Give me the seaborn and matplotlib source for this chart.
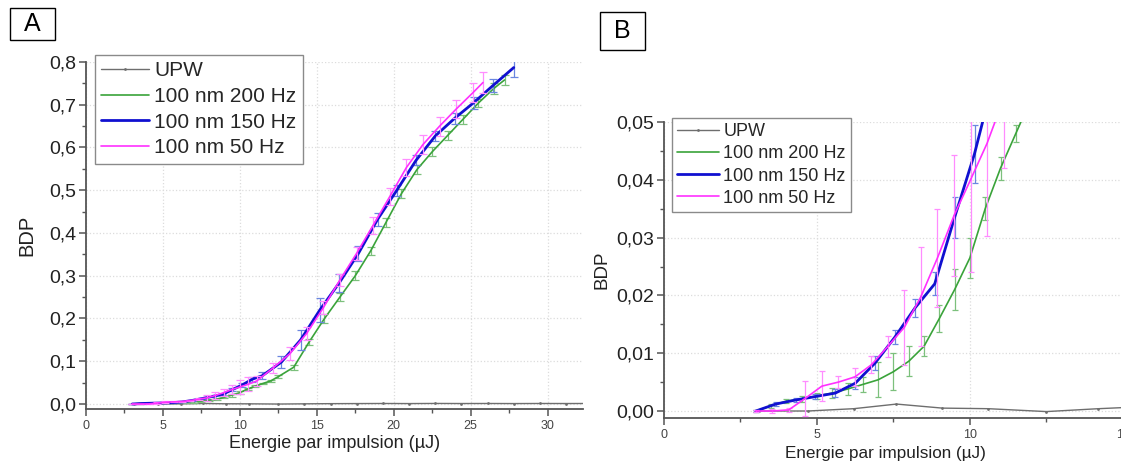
import numpy as np
import pandas as pd
import matplotlib
matplotlib.use("Agg")
import matplotlib.pyplot as plt
from matplotlib.patches import Rectangle
from matplotlib.ticker import MultipleLocator, FuncFormatter
import seaborn as sns

sns.set_theme(style="white")
plt.rcParams['font.family'] = ['Liberation Sans', 'DejaVu Sans']

series_labels = ["UPW", "100 nm 200 Hz", "100 nm 150 Hz", "100 nm 50 Hz"]
x_label = "Energie par impulsion (µJ)"
y_label = "BDP"

upw_x = [3.1, 4.7, 6.2, 7.6, 9.1, 10.6, 12.5, 14.2, 15.9, 17.6, 19.3, 21.0, 22.7, 24.4, 26.1, 27.8, 29.5, 31.2, 32.9]
upw_y = [0.0, 0.0, 0.0004, 0.0012, 0.0005, 0.0004, -0.0001, 0.0004, 0.0008, 0.0010, 0.0012, 0.0010, 0.0013, 0.0011, 0.0012, 0.0010, 0.0012, 0.0011, 0.0012]

green_x = [3.0, 3.5, 4.0, 4.5, 5.0, 5.5, 6.0, 6.5, 7.0, 7.5, 8.0, 8.5, 9.0, 9.5, 10.0, 10.5, 11.0, 11.5, 12.0, 12.5,
           13.5, 14.5, 15.5, 16.5, 17.5, 18.5, 19.5, 20.5, 21.5, 22.5, 23.5, 24.5, 25.5, 26.5, 27.2]
green_y = [0.0, 0.0009, 0.0017, 0.0021, 0.0026, 0.0031, 0.0038, 0.0046, 0.0054, 0.0068, 0.0086, 0.0112, 0.0160, 0.0210,
           0.0265, 0.0350, 0.0420, 0.0480, 0.0540, 0.0640, 0.0860, 0.145, 0.200, 0.250, 0.300, 0.358, 0.425, 0.492,
           0.548, 0.590, 0.628, 0.666, 0.704, 0.738, 0.758]
green_err = [0.0002, 0.0003, 0.0004, 0.0005, 0.0006, 0.0008, 0.001, 0.0013, 0.003, 0.0032, 0.0026, 0.0017, 0.0023, 0.0035,
             0.0035, 0.002, 0.002, 0.0015, 0.003, 0.004, 0.006, 0.008, 0.01, 0.01, 0.01, 0.01, 0.01, 0.01, 0.01, 0.01,
             0.01, 0.01, 0.01, 0.012, 0.012]

blue_x = [3.0, 3.65, 4.3, 4.95, 5.6, 6.25, 6.9, 7.55, 8.2, 8.85, 9.5, 10.15, 10.8, 11.45, 12.7, 13.95, 15.2, 16.45,
          17.7, 18.95, 20.2, 21.45, 22.7, 23.95, 25.2, 26.45, 27.8]
blue_y = [0.0, 0.0012, 0.0019, 0.0025, 0.0031, 0.0048, 0.0083, 0.0128, 0.0178, 0.0220, 0.0335, 0.0445, 0.058, 0.066,
          0.098, 0.150, 0.220, 0.283, 0.352, 0.432, 0.500, 0.570, 0.627, 0.668, 0.705, 0.745, 0.787]
blue_err = [0.0002, 0.0004, 0.0004, 0.0005, 0.0007, 0.001, 0.0012, 0.0012, 0.0015, 0.002, 0.0035, 0.005, 0.006, 0.008,
            0.014, 0.024, 0.028, 0.022, 0.018, 0.015, 0.013, 0.012, 0.012, 0.012, 0.014, 0.016, 0.022]

pink_x = [3.0, 3.54, 4.08, 4.62, 5.16, 5.7, 6.24, 6.78, 7.32, 7.86, 8.4, 8.94, 9.48, 10.02, 10.56, 11.1, 12.18, 13.26,
          14.34, 15.42, 16.5, 17.58, 18.66, 19.74, 20.82, 21.9, 22.98, 24.06, 25.14, 25.8]
pink_y = [0.0, 0.0, 0.0002, 0.0022, 0.0043, 0.0050, 0.0059, 0.0080, 0.0112, 0.0145, 0.0198, 0.0265, 0.0338, 0.0400,
          0.0463, 0.0540, 0.085, 0.118, 0.165, 0.225, 0.290, 0.352, 0.418, 0.485, 0.553, 0.607, 0.650, 0.690, 0.728, 0.752]
pink_err = [0.0002, 0.0003, 0.0004, 0.003, 0.0026, 0.001, 0.0015, 0.0015, 0.0018, 0.0065, 0.0085, 0.0085, 0.0105,
            0.016, 0.016, 0.012, 0.012, 0.015, 0.015, 0.015, 0.015, 0.015, 0.02, 0.02, 0.02, 0.022, 0.022, 0.022,
            0.022, 0.025]

line_colors = ["#6e6e6e", "#3aa33a", "#1010d0", "#ff30ff"]
err_colors = ["#8a8a8a", "#7cc07c", "#6a86e0", "#ff8cff"]
line_widths = [1.0, 1.2, 2.0, 1.2]

series = [
    (upw_x, upw_y, None),
    (green_x, green_y, green_err),
    (blue_x, blue_y, blue_err),
    (pink_x, pink_y, pink_err),
]

W, H = 1121, 468
fig = plt.figure(figsize=(W / 100, H / 100), dpi=100)


def fbox(l, t, r, b):
    return [l / W, 1 - b / H, (r - l) / W, (b - t) / H]


axA = fig.add_axes(fbox(86, 62, 583, 409))
axB = fig.add_axes(fbox(664, 122, 1140, 418))


def draw(ax, capsize, leg_anchor, leg_fs, leg_space, ylab_fs, ylab_pad):
    for i, (xs, ys, es) in enumerate(series):
        df = pd.DataFrame({"x": xs, "y": ys})
        if es is not None:
            ax.errorbar(xs, ys, yerr=es, fmt="none", ecolor=err_colors[i], elinewidth=0.9,
                        capsize=capsize, capthick=0.9, zorder=2 + i)
        sns.lineplot(data=df, x="x", y="y", ax=ax, color=line_colors[i], linewidth=line_widths[i],
                     sort=False, estimator=None, label=series_labels[i],
                     marker="o" if i == 0 else None, markersize=2 if i == 0 else 0,
                     markeredgewidth=0, zorder=3 + i)
    for s in ["top", "right"]:
        ax.spines[s].set_visible(False)
    for s in ["left", "bottom"]:
        ax.spines[s].set_color("#555555")
        ax.spines[s].set_linewidth(1.3)
    ax.tick_params(axis="both", which="both", direction="out", color="#555555",
                   bottom=True, left=True, top=False, right=False)
    ax.tick_params(axis="both", which="major", length=5, width=1.1)
    ax.tick_params(axis="both", which="minor", length=3, width=1.0)
    ax.tick_params(axis="x", labelsize=9, labelcolor="#444444", pad=3)
    ax.tick_params(axis="y", labelsize=14, labelcolor="#222222", pad=2)
    ax.grid(True, which="major", color="#dcdcdc", linestyle=":", linewidth=0.9)
    ax.set_axisbelow(True)
    ax.set_xlabel(x_label, fontsize=13, color="#222222", labelpad=2)
    ax.set_ylabel(y_label, fontsize=ylab_fs, color="#222222", labelpad=ylab_pad)
    leg = ax.legend(loc="upper left", bbox_to_anchor=leg_anchor, bbox_transform=fig.transFigure,
                    fontsize=leg_fs, frameon=True, fancybox=False, borderaxespad=0, borderpad=0.3,
                    labelspacing=leg_space, handlelength=2.3, handletextpad=0.25)
    leg.get_frame().set_edgecolor("#8a8a8a")
    leg.get_frame().set_linewidth(1.0)
    leg.get_frame().set_alpha(1)


draw(axA, 3, (95 / W, 1 - 55 / H), 15.0, 0.32, 14.5, 9)
axA.set_xlim(0, 32.3)
axA.set_ylim(-0.0117, 0.8)
axA.xaxis.set_major_locator(MultipleLocator(5))
axA.xaxis.set_minor_locator(MultipleLocator(2.5))
axA.yaxis.set_major_locator(MultipleLocator(0.1))
axA.yaxis.set_minor_locator(MultipleLocator(0.05))
axA.yaxis.set_major_formatter(FuncFormatter(lambda v, p: f"{v:.1f}".replace(".", ",")))
axA.xaxis.set_major_formatter(FuncFormatter(lambda v, p: f"{v:.0f}"))

draw(axB, 2.5, (672 / W, 1 - 118 / H), 13.0, 0.28, 13.5, 4)
axB.set_xlim(0, 15.56)
axB.set_ylim(-0.00121, 0.05)
axB.xaxis.set_major_locator(MultipleLocator(5))
axB.xaxis.set_minor_locator(MultipleLocator(2.5))
axB.yaxis.set_major_locator(MultipleLocator(0.01))
axB.yaxis.set_minor_locator(MultipleLocator(0.005))
axB.yaxis.set_major_formatter(FuncFormatter(lambda v, p: f"{v:.2f}".replace(".", ",")))
axB.xaxis.set_major_formatter(FuncFormatter(lambda v, p: f"{v:.0f}"))
axB.set_xlabel(x_label, fontsize=12.3, color="#222222")
axB.xaxis.set_label_coords((885 - 664) / 476, -0.095)

# panel letters
for (l, t, r, b, letter) in [(10, 8, 55, 40, "A"), (600, 12, 645, 50, "B")]:
    fig.add_artist(Rectangle((l / W, 1 - b / H), (r - l) / W, (b - t) / H, transform=fig.transFigure,
                             fill=False, edgecolor="black", linewidth=1.0))
    fig.text((l + r) / 2 / W, 1 - (t + b) / 2 / H, letter, ha="center", va="center", fontsize=18,
             color="black")

fig.savefig("out.png", dpi=100)
